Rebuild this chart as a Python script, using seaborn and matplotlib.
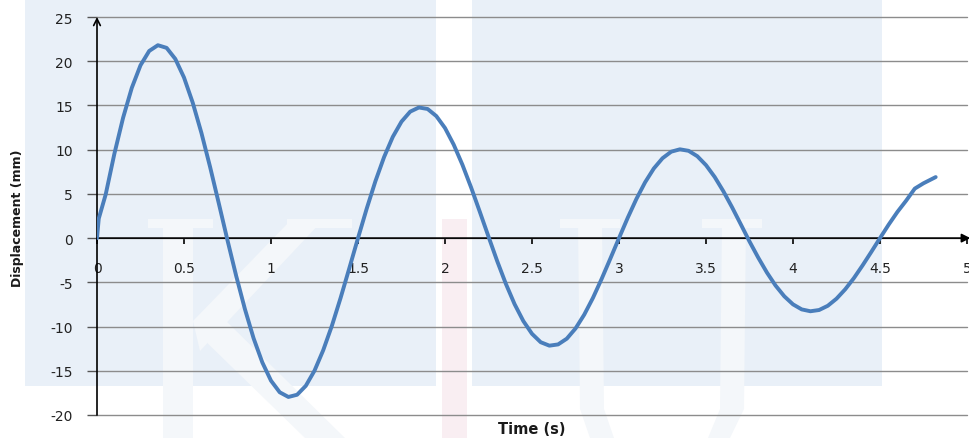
import matplotlib
matplotlib.use('Agg')
import matplotlib.pyplot as plt
import seaborn as sns
import pandas as pd
from matplotlib.patches import Rectangle, Polygon

# ---- data ----
time_s = [0.0, 0.01, 0.05, 0.10, 0.15, 0.20, 0.25, 0.30, 0.35, 0.40, 0.45, 0.50, 0.55, 0.60, 0.65, 0.70,
          0.75, 0.80, 0.85, 0.90, 0.95, 1.00, 1.05, 1.10, 1.15, 1.20, 1.25, 1.30, 1.35, 1.40, 1.45,
          1.50, 1.55, 1.60, 1.65, 1.70, 1.75, 1.80, 1.85, 1.90, 1.95, 2.00, 2.05, 2.10, 2.15, 2.20,
          2.25, 2.30, 2.35, 2.40, 2.45, 2.50, 2.55, 2.60, 2.65, 2.70, 2.75, 2.80, 2.85, 2.90, 2.95,
          3.00, 3.05, 3.10, 3.15, 3.20, 3.25, 3.30, 3.35, 3.40, 3.45, 3.50, 3.55, 3.60, 3.65, 3.70,
          3.75, 3.80, 3.85, 3.90, 3.95, 4.00, 4.05, 4.10, 4.15, 4.20, 4.25, 4.30, 4.35, 4.40, 4.45,
          4.50, 4.55, 4.60, 4.65, 4.70, 4.75, 4.80, 4.82]
displacement_mm = [0.0, 2.2, 4.94, 9.55, 13.61, 16.99, 19.54, 21.16, 21.81, 21.51, 20.26, 18.16, 15.32, 11.90, 8.04, 3.93,
                   -0.25, -4.28, -8.02, -11.33, -14.05, -16.12, -17.43, -17.96, -17.71, -16.70, -14.99, -12.68, -9.91, -6.76, -3.41,
                   0.0, 3.33, 6.43, 9.17, 11.45, 13.17, 14.30, 14.77, 14.60, 13.80, 12.45, 10.57, 8.30, 5.73, 2.98,
                   0.17, -2.60, -5.18, -7.47, -9.37, -10.82, -11.77, -12.16, -12.02, -11.37, -10.22, -8.66, -6.77, -4.62, -2.33,
                   0.0, 2.29, 4.43, 6.31, 7.87, 9.03, 9.77, 10.04, 9.87, 9.26, 8.25, 6.91, 5.29, 3.48, 1.56,
                   -0.38, -2.20, -3.89, -5.37, -6.58, -7.49, -8.06, -8.27, -8.13, -7.65, -6.85, -5.79, -4.52, -3.08, -1.56,
                   0.0, 1.53, 2.96, 4.23, 5.60, 6.20, 6.70, 6.90]
x_ticks = [0, 0.5, 1, 1.5, 2, 2.5, 3, 3.5, 4, 4.5, 5]
x_tick_labels = ['0', '0.5', '1', '1.5', '2', '2.5', '3', '3.5', '4', '4.5', '5']
y_ticks = [-20, -15, -10, -5, 0, 5, 10, 15, 20, 25]
y_tick_labels = ['-20', '-15', '-10', '-5', '0', '5', '10', '15', '20', '25']
x_title = 'Time (s)'
y_title = 'Displacement (mm)'

df = pd.DataFrame({'t': time_s, 'd': displacement_mm})

sns.set_theme(style='white')
plt.rcParams['font.family'] = ['DejaVu Sans']

W, H = 970, 439
fig = plt.figure(figsize=(9.7, 4.39), dpi=100)
fig.patch.set_facecolor('white')


def fx(px):
    return px / W


def fy(py):
    return 1 - py / H


def frect(x0, y0, x1, y1, color, z=-10):
    fig.patches.append(Rectangle((fx(x0), fy(y1)), (x1 - x0) / W, (y1 - y0) / H,
                                 transform=fig.transFigure, facecolor=color,
                                 edgecolor='none', zorder=z))


def fpoly(pts, color, z=-9):
    fig.patches.append(Polygon([(fx(a), fy(b)) for a, b in pts], closed=True,
                               transform=fig.transFigure, facecolor=color,
                               edgecolor='none', zorder=z))


# faint watermark background
frect(25, 0, 882, 387, '#e9f0f8')
frect(436, 0, 472, 439, '#ffffff', z=-9.5)
frect(442, 220, 467, 439, '#f9eef2', z=-9)
wm = '#f4f7fa'
# K
frect(163, 220, 193, 439, wm, z=-9)
frect(148, 220, 213, 229, wm, z=-9)
fpoly([(193, 322), (290, 222), (322, 222), (200, 352)], wm)
frect(287, 220, 352, 229, wm, z=-9)
fpoly([(198, 335), (222, 318), (345, 439), (305, 439)], wm)
# U
fpoly([(578, 220), (602, 220), (604, 410), (614, 439), (590, 439), (580, 410)], wm)
fpoly([(722, 220), (746, 220), (744, 410), (730, 439), (708, 439), (720, 410)], wm)
frect(560, 220, 620, 229, wm, z=-9)
frect(702, 220, 762, 229, wm, z=-9)

ax = fig.add_axes([fx(97), fy(416), 870 / W, 398 / H])
ax.set_facecolor('none')

sns.lineplot(data=df, x='t', y='d', ax=ax, color='#4a7ebb', linewidth=2.8,
             solid_capstyle='round', zorder=5)

ax.set_xlim(0, 5)
ax.set_ylim(-20, 25)
ax.set_xticks(x_ticks)
ax.set_xticklabels(x_tick_labels)
ax.set_yticks(y_ticks)
ax.set_yticklabels(y_tick_labels)
ax.set_xlabel('')
ax.set_ylabel('')

for s in ['top', 'right', 'left', 'bottom']:
    ax.spines[s].set_visible(False)
ax.spines['bottom'].set_position(('data', 0))

ax.yaxis.grid(True, color='#8c8c8c', linewidth=1.0, zorder=1)
ax.xaxis.grid(False)
ax.set_axisbelow(True)
for gl in ax.get_ygridlines():
    gl.set_clip_on(False)

ax.tick_params(axis='x', which='major', bottom=True, direction='out', length=4, width=1.2,
               color='black', pad=12.5, labelsize=10, labelcolor='#222222')
ax.tick_params(axis='y', which='major', left=True, direction='out', length=7, width=1.0,
               color='#555555', pad=10.5, labelsize=10, labelcolor='#222222')

# axis lines with arrows
ax.annotate('', xy=(5.02, 0), xytext=(0, 0), xycoords='data', annotation_clip=False,
            arrowprops=dict(arrowstyle='-|>', color='black', lw=1.2, mutation_scale=13,
                            shrinkA=0, shrinkB=0), zorder=4)
ax.annotate('', xy=(0, 25.0), xytext=(0, -20), xycoords='data', annotation_clip=False,
            arrowprops=dict(arrowstyle='->', color='black', lw=1.2, mutation_scale=12,
                            shrinkA=0, shrinkB=0), zorder=4)

fig.text(fx(532), fy(430), x_title, ha='center', va='center', fontsize=10.5,
         fontweight='bold', color='#1a1a1a')
fig.text(fx(18), fy(218), y_title, ha='center', va='center', rotation=90, fontsize=9,
         fontweight='bold', color='#1a1a1a')

fig.savefig('out.png', dpi=100)
